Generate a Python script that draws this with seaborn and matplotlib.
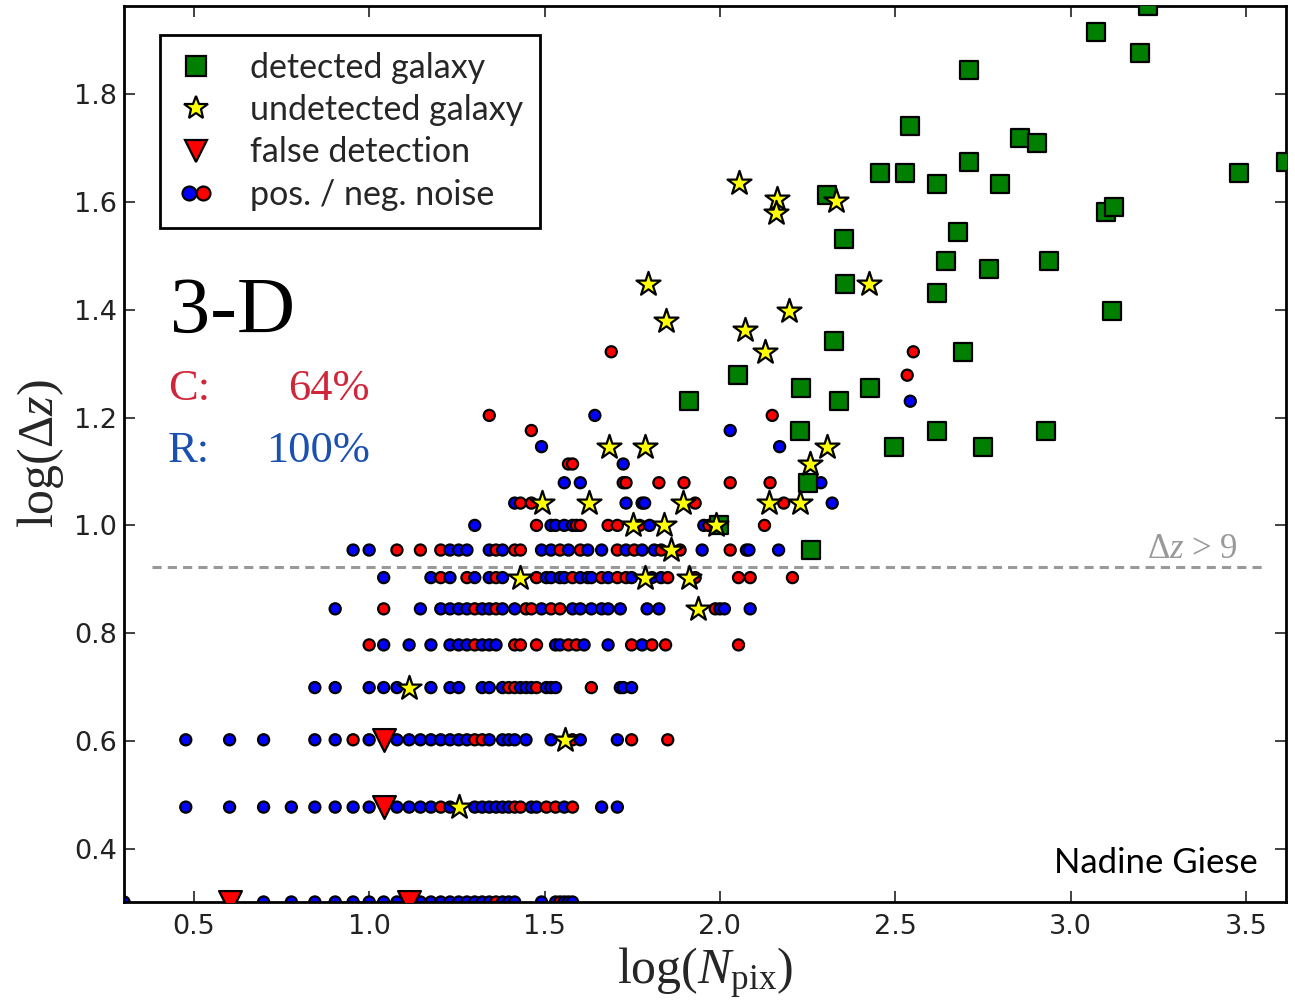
import numpy as np
import pandas as pd
import matplotlib
matplotlib.use('Agg')
import matplotlib.pyplot as plt
import seaborn as sns
from matplotlib.lines import Line2D
from matplotlib.legend_handler import HandlerTuple

# noise: Npix values per delta-z row
pos_noise = {
    2: [2, 5, 6, 7, 8, 9, 10, 11, 12, 14, 15, 16, 17, 18, 19, 20, 21, 22, 24, 25, 26, 31, 34, 36, 37, 38],
    3: [3, 4, 5, 6, 7, 8, 9, 10, 12, 13, 14, 15, 17, 20, 21, 22, 23, 24, 25, 29, 30, 36, 46, 51],
    4: [3, 4, 5, 7, 8, 10, 12, 13, 14, 15, 16, 17, 18, 19, 22, 24, 25, 26, 28, 33, 40, 51],
    5: [7, 8, 10, 11, 12, 15, 17, 18, 21, 22, 24, 27, 28, 29, 32, 33, 34, 52, 53, 56],
    6: [11, 13, 15, 17, 18, 19, 21, 22, 23, 34, 35, 41, 48, 60],
    7: [8, 14, 16, 17, 18, 19, 21, 22, 24, 26, 31, 38, 40, 43, 46, 48, 52, 62, 67, 100, 103, 122],
    8: [11, 15, 17, 20, 22, 24, 32, 33, 35, 36, 40, 42, 43, 48, 56, 64, 68],
    9: [9, 10, 17, 18, 19, 22, 24, 31, 33, 37, 42, 46, 54, 60, 65, 89, 119, 121, 147],
    10: [20, 33, 34, 36, 38, 63, 90],
    11: [26, 54, 60, 61, 209],
    12: [36, 40, 194],
    13: [53],
    14: [31, 148],
    15: [107],
    16: [44],
    17: [349],
}
neg_noise = {
    2: [23, 35],
    3: [16, 26, 27, 32, 34, 38],
    4: [9, 20, 21, 38, 56, 71],
    5: [25, 26, 30, 43],
    6: [10, 20, 26, 27, 30, 37, 39, 56, 64, 70, 113],
    7: [11, 20, 23, 28, 29, 33, 35, 97],
    8: [16, 19, 23, 30, 38, 46, 51, 54, 71, 85, 113, 122, 161],
    9: [12, 14, 16, 23, 26, 27, 35, 40, 51, 57, 68, 77, 107],
    10: [30, 39, 40, 48, 51, 59, 93, 134],
    11: [27, 29, 85, 152],
    12: [53, 54, 67, 79, 107, 139],
    13: [37, 38],
    15: [29],
    16: [22, 141],
    19: [342],
    21: [49, 356],
}

# detected galaxies (log Npix, log dz)
det_x = [3.220, 3.071, 3.197, 2.711, 2.543, 2.857, 2.903, 2.709, 2.457, 2.529, 3.480, 3.614,
         2.620, 2.800, 2.306, 3.100, 3.123, 2.354, 2.680, 2.646, 2.937, 2.766, 2.357, 2.620,
         3.117, 2.326, 2.694, 2.051, 2.231, 2.429, 1.911, 2.340, 2.229, 2.620, 2.929, 2.497,
         2.751, 2.251, 2.260, 1.997]
det_y = [1.964, 1.915, 1.876, 1.846, 1.741, 1.719, 1.709, 1.674, 1.654, 1.654, 1.654, 1.674,
         1.633, 1.633, 1.613, 1.581, 1.591, 1.531, 1.544, 1.491, 1.491, 1.476, 1.448, 1.431,
         1.398, 1.343, 1.322, 1.279, 1.255, 1.255, 1.230, 1.230, 1.176, 1.176, 1.176, 1.146,
         1.146, 1.079, 0.954, 1.000]

# undetected galaxies
undet_x = [2.054, 2.163, 2.160, 2.331, 1.794, 1.846, 2.426, 2.197, 2.071, 2.129, 1.683, 1.786,
           2.306, 2.257, 1.494, 1.626, 1.894, 2.140, 2.229, 1.751, 1.840, 1.989, 1.860, 1.429,
           1.786, 1.911, 1.937, 1.114, 1.557, 1.255]
undet_y = [1.635, 1.606, 1.580, 1.602, 1.448, 1.380, 1.448, 1.398, 1.362, 1.322, 1.146, 1.146,
           1.146, 1.114, 1.041, 1.041, 1.041, 1.041, 1.041, 1.000, 1.000, 1.000, 0.954, 0.903,
           0.903, 0.903, 0.845, 0.699, 0.602, 0.477]

# false detections
false_x = [1.041, 1.041, 0.602, 1.114]
false_y = [0.602, 0.477, 0.301, 0.301]

dz_cut = 0.923
cut_span = [0.38, 3.55]
x_lim = [0.301, 3.614]
y_lim = [0.301, 1.964]

rows = []
for kind, table in [('pos', pos_noise), ('neg', neg_noise)]:
    for dz, npix in table.items():
        for n in npix:
            rows.append((np.log10(n), np.log10(dz), kind))
noise = pd.DataFrame(rows, columns=['logN', 'logdz', 'kind']).sort_values(['logdz', 'logN'])

sns.set_style('ticks')
plt.rcParams['font.family'] = ['DejaVu Sans']
plt.rcParams['mathtext.fontset'] = 'custom'
plt.rcParams['mathtext.rm'] = 'Liberation Serif'
plt.rcParams['mathtext.it'] = 'Liberation Serif:italic'

fig = plt.figure(figsize=(12.95, 10.01), dpi=100)
ax = fig.add_axes([124 / 1295, 99 / 1001, 1162 / 1295, 896 / 1001])

ax.hlines(dz_cut, cut_span[0], cut_span[1], colors='#999999', linestyles=(0, (3, 2)), lw=2.2, zorder=1)

sns.scatterplot(data=noise, x='logN', y='logdz', hue='kind', palette={'pos': 'blue', 'neg': 'red'},
                s=64, edgecolor='black', linewidth=1.6, legend=False, ax=ax, zorder=2)
sns.scatterplot(x=det_x, y=det_y, marker='s', s=160, color='#007f00', edgecolor='black',
                linewidth=1.6, ax=ax, zorder=3)
sns.scatterplot(x=undet_x, y=undet_y, marker='*', s=330, color='#ffff00', edgecolor='black',
                linewidth=1.6, ax=ax, zorder=4)
sns.scatterplot(x=false_x, y=false_y, marker='v', s=270, color='red', edgecolor='black',
                linewidth=1.6, ax=ax, zorder=5)

ax.set_xlim(x_lim)
ax.set_ylim(y_lim)
ax.set_xticks([0.5, 1.0, 1.5, 2.0, 2.5, 3.0, 3.5])
ax.set_yticks([0.4, 0.6, 0.8, 1.0, 1.2, 1.4, 1.6, 1.8])
ax.tick_params(direction='in', length=8, width=1.3, labelsize=19.5, top=True, right=True,
               color='#333333', labelcolor='#222222')
ax.tick_params(axis='y', pad=5)
ax.tick_params(axis='x', pad=9)
for sp in ax.spines.values():
    sp.set_linewidth(2)
    sp.set_color('black')

ax.set_xlabel('log($N_{\\rm pix}$)', family='Liberation Serif', fontsize=36, labelpad=4)
ax.set_ylabel('log(Δ$z$)', family='Liberation Serif', fontsize=36, labelpad=6)

# legend
mk = dict(linestyle='none', markeredgecolor='black', markeredgewidth=1.6)
h_det = Line2D([], [], marker='s', markersize=14, markerfacecolor='#007f00', **mk)
h_und = Line2D([], [], marker='*', markersize=18, markerfacecolor='#ffff00', **mk)
h_fal = Line2D([], [], marker='v', markersize=16, markerfacecolor='red', **mk)
h_pos = Line2D([], [], marker='o', markersize=10, markerfacecolor='blue', **mk)
h_neg = Line2D([], [], marker='o', markersize=10, markerfacecolor='red', **mk)
leg = ax.legend([h_det, h_und, h_fal, (h_pos, h_neg)],
                ['detected galaxy', 'undetected galaxy', 'false detection', 'pos. / neg. noise'],
                handler_map={tuple: HandlerTuple(ndivide=None, pad=-0.3)},
                loc='upper left', bbox_to_anchor=(0.031, 0.9676), borderaxespad=0,
                prop={'family': 'Lato', 'size': 24.5}, frameon=True, fancybox=False,
                framealpha=1, edgecolor='black', handlelength=1.1, handletextpad=1.05,
                labelspacing=0.3, borderpad=0.5)
leg.get_frame().set_linewidth(2)

ax.text(0.0396, 0.635, '3-D', transform=ax.transAxes, family='Liberation Serif', fontsize=58,
        color='black', va='baseline')
ax.text(0.0379, 0.560, 'C:', transform=ax.transAxes, family='Liberation Serif', fontsize=32,
        color='#d0263a', va='baseline')
ax.text(0.2117, 0.560, '64%', transform=ax.transAxes, family='Liberation Serif', fontsize=32,
        color='#d0263a', va='baseline', ha='right')
ax.text(0.0379, 0.491, 'R:', transform=ax.transAxes, family='Liberation Serif', fontsize=32,
        color='#1a50b0', va='baseline')
ax.text(0.2117, 0.491, '100%', transform=ax.transAxes, family='Liberation Serif', fontsize=32,
        color='#1a50b0', va='baseline', ha='right')
ax.text(0.9587, 0.384, 'Δ$z$ > 9', transform=ax.transAxes, family='Liberation Serif', fontsize=25,
        color='#999999', va='baseline', ha='right')
ax.text(0.976, 0.0324, 'Nadine Giese', transform=ax.transAxes, family='Lato', fontsize=25,
        color='black', va='baseline', ha='right')

fig.savefig('out.png', dpi=100)
